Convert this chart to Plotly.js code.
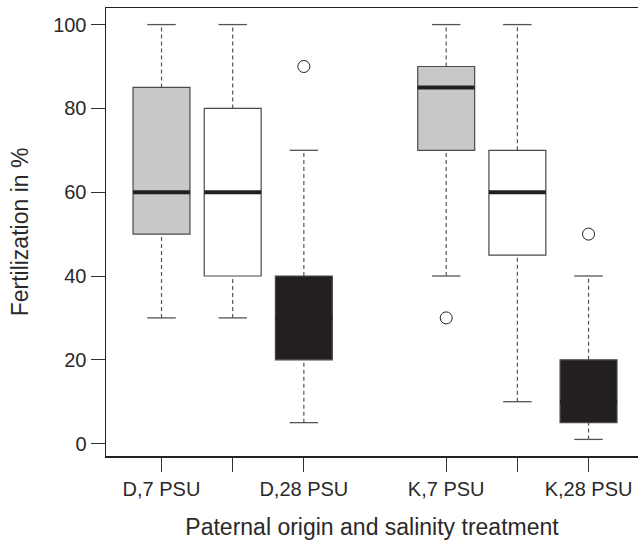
<!DOCTYPE html>
<html>
<head>
<meta charset="utf-8">
<script src="https://cdn.plot.ly/plotly-3.0.1.min.js"></script>
<style>html,body{margin:0;padding:0;background:#fff;}#chart{width:638px;height:541px;}</style>
</head>
<body>
<div id="chart"></div>
<script>
// ---- data ----
const positions = [1, 2, 3, 5, 6, 7];
const tickLabels = ["D,7 PSU", "", "D,28 PSU", "K,7 PSU", "", "K,28 PSU"];
const lowerWhisker = [30, 30, 5, 40, 10, 1];
const q1 = [50, 40, 20, 70, 45, 5];
const medians = [60, 60, 30, 85, 60, 10];
const q3 = [85, 80, 40, 90, 70, 20];
const upperWhisker = [100, 100, 70, 100, 100, 40];
const outlierX = [3, 5, 7];
const outlierY = [90, 30, 50];

// ---- styles ----
const boxFills = ["#c7c8ca", "#ffffff", "#231f20", "#c7c8ca", "#ffffff", "#231f20"];
const ink = "#231f20";
const halfBox = 0.4, halfCap = 0.2;

const shapes = [];
positions.forEach((p, i) => {
  // whiskers (dashed)
  shapes.push({type: "line", xref: "x", yref: "y", x0: p, x1: p, y0: lowerWhisker[i], y1: q1[i],
    line: {color: "#555", width: 1.2, dash: "4px,3px"}, layer: "above"});
  shapes.push({type: "line", xref: "x", yref: "y", x0: p, x1: p, y0: q3[i], y1: upperWhisker[i],
    line: {color: "#555", width: 1.2, dash: "4px,3px"}, layer: "above"});
  // caps
  shapes.push({type: "line", xref: "x", yref: "y", x0: p - halfCap, x1: p + halfCap, y0: lowerWhisker[i], y1: lowerWhisker[i],
    line: {color: "#555", width: 1.3}, layer: "above"});
  shapes.push({type: "line", xref: "x", yref: "y", x0: p - halfCap, x1: p + halfCap, y0: upperWhisker[i], y1: upperWhisker[i],
    line: {color: "#555", width: 1.3}, layer: "above"});
  // box
  shapes.push({type: "rect", xref: "x", yref: "y", x0: p - halfBox, x1: p + halfBox, y0: q1[i], y1: q3[i],
    fillcolor: boxFills[i], line: {color: "#4a4a4a", width: 1.2}, layer: "above"});
  // median
  shapes.push({type: "line", xref: "x", yref: "y", x0: p - halfBox, x1: p + halfBox, y0: medians[i], y1: medians[i],
    line: {color: ink, width: 4}, layer: "above"});
});

const traces = [{
  type: "scatter", mode: "markers", x: outlierX, y: outlierY,
  marker: {symbol: "circle-open", size: 12, color: ink, line: {width: 1, color: ink}},
  showlegend: false, hoverinfo: "y"
}];

const tickFont = {family: "Liberation Sans, Arial, Helvetica, sans-serif", size: 20, color: "#2a2a2a"};
const titleFont = {family: "Liberation Sans, Arial, Helvetica, sans-serif", size: 23, color: "#2a2a2a"};

const layout = {
  width: 638, height: 541,
  margin: {l: 106, r: 0, t: 8, b: 85},
  paper_bgcolor: "#fff", plot_bgcolor: "#fff",
  showlegend: false,
  xaxis: {
    range: [0.22, 7.695], showgrid: false, zeroline: false,
    showline: true, mirror: true, linecolor: ink, linewidth: 1.5,
    tickmode: "array", tickvals: positions, ticktext: tickLabels,
    ticks: "outside", ticklen: 14, tickwidth: 1, tickcolor: "#333",
    tickfont: tickFont, automargin: false,
    title: {text: "Paternal origin and salinity treatment", font: titleFont, standoff: 20}
  },
  yaxis: {
    range: [-2.96, 103.96], showgrid: false, zeroline: false,
    showline: true, linecolor: ink, linewidth: 1.5,
    tickmode: "array", tickvals: [0, 20, 40, 60, 80, 100],
    ticks: "outside", ticklen: 14, tickwidth: 1, tickcolor: "#333",
    tickfont: tickFont, automargin: false,
    title: {text: "Fertilization in %", font: titleFont, standoff: 18}
  },
  shapes: shapes
};

Plotly.newPlot("chart", traces, layout, {staticPlot: true, displayModeBar: false});
</script>
</body>
</html>
